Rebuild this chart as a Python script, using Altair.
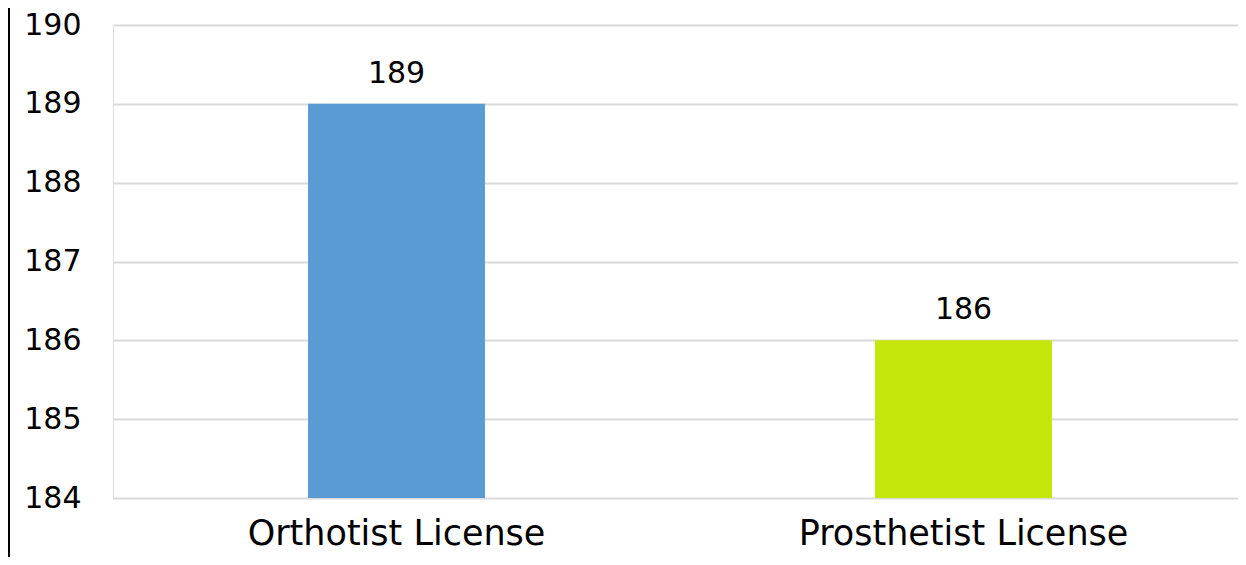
import altair as alt
import pandas as pd

categories = ["Orthotist License", "Prosthetist License"]
values = [189, 186]
colors = ["#5B9BD5", "#C5E60A"]

df = pd.DataFrame({"cat": categories, "val": values, "color": colors})

FONT = "DejaVu Sans"

base = alt.Chart(df).encode(
    x=alt.X("cat:N", sort=categories, title=None,
            scale=alt.Scale(paddingInner=0.688, paddingOuter=0.344, range=[0, 1134]),
            axis=alt.Axis(labelAngle=0, labelFontSize=35, labelFont=FONT, labelColor="#000000",
                          labelPadding=18, labelLimit=0, ticks=False, domain=False, grid=False)),
)

bars = base.mark_bar().encode(
    y=alt.Y("val:Q", title=None,
            scale=alt.Scale(domain=[184, 190], nice=False, zero=False),
            axis=alt.Axis(values=[184, 185, 186, 187, 188, 189, 190], format="d",
                          labelFontSize=30, labelFont=FONT, labelColor="#000000",
                          labelPadding=32, ticks=False, domain=False,
                          gridColor="#d9d9d9", gridWidth=2)),
    y2=alt.datum(184),
    color=alt.Color("color:N", scale=None),
)

text = base.mark_text(baseline="bottom", dy=-15, fontSize=30, font=FONT, color="#000000").encode(
    y="val:Q", text="val:Q"
)

border = alt.Chart(df).mark_rule(color="#000000", strokeWidth=2, clip=False).encode(
    x=alt.value(-104), y=alt.value(-17), y2=alt.value(532)
)

chart = alt.layer(bars, text, border).properties(
    width=1125, height=473,
    padding={"left": 105, "top": 17, "right": 0, "bottom": 59},
    autosize=alt.AutoSizeParams(type="none"),
).configure_view(stroke=None).configure(background="#ffffff")

chart.save("out.html", embed_options={"renderer": "svg", "actions": False})
